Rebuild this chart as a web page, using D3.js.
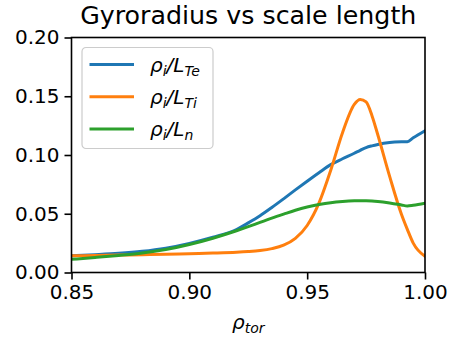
<!DOCTYPE html>
<html>
<head>
<meta charset="utf-8">
<script src="https://cdn.jsdelivr.net/npm/d3@7/dist/d3.min.js"></script>
<style>
  body { margin: 0; background: #fff; }
  svg { font-family: "DejaVu Sans", sans-serif; }
</style>
</head>
<body>
<div id="chart"></div>
<script>
// rho_tor sample points
const rhoTor = [0.85, 0.86, 0.87, 0.88, 0.89, 0.90, 0.91, 0.92, 0.925, 0.93, 0.935, 0.94, 0.945,
  0.95, 0.955, 0.96, 0.965, 0.97, 0.9725, 0.975, 0.9775, 0.98, 0.985, 0.99, 0.9925, 0.995, 1.0];

// rho_i / L_Te
const rhoLTe = [0.0143, 0.0152, 0.0163, 0.0180, 0.0207, 0.0248, 0.0300, 0.0366, 0.0422, 0.0483, 0.0553, 0.0627, 0.0703,
  0.0777, 0.0849, 0.0918, 0.0968, 0.1015, 0.1040, 0.1063, 0.1078, 0.1090, 0.1106, 0.1112, 0.1113, 0.1146, 0.1207];

// rho_i / L_Ti
const rhoLTi = [0.0142, 0.0145, 0.0148, 0.0151, 0.0155, 0.0160, 0.0165, 0.0172, 0.0178, 0.0187, 0.0203, 0.0232, 0.0290,
  0.0400, 0.0590, 0.0870, 0.1190, 0.1430, 0.1472, 0.1452, 0.1335, 0.1170, 0.0818, 0.0496, 0.0367, 0.0250, 0.0137];

// rho_i / L_n
const rhoLn = [0.0112, 0.0128, 0.0145, 0.0165, 0.0195, 0.0238, 0.0292, 0.0355, 0.0390, 0.0427, 0.0463, 0.0497, 0.0530,
  0.0557, 0.0578, 0.0594, 0.0604, 0.0610, 0.0611, 0.0611, 0.0609, 0.0605, 0.0592, 0.0575, 0.0566, 0.0572, 0.0590];

const xTicks = [0.85, 0.90, 0.95, 1.00];
const yTicks = [0.00, 0.05, 0.10, 0.15, 0.20];

const series = [
  { values: rhoLTe, color: "#1f77b4", sub: "Te" },
  { values: rhoLTi, color: "#ff7f0e", sub: "Ti" },
  { values: rhoLn, color: "#2ca02c", sub: "n" }
];

const W = 449, H = 342;
const margin = { top: 37.5, right: 24, bottom: 69.5, left: 71.5 };
const width = W - margin.left - margin.right,
  height = H - margin.top - margin.bottom;

const svg = d3.select("#chart").append("svg")
  .attr("width", W).attr("height", H);

const g = svg.append("g")
  .attr("transform", "translate(" + margin.left + "," + margin.top + ")");

const x = d3.scaleLinear().domain([0.85, 1.0]).range([0, width]);
const y = d3.scaleLinear().domain([0, 0.2]).range([height, 0]);

// lines
const line = d3.line().curve(d3.curveMonotoneX);
g.append("defs").append("clipPath").attr("id", "clip")
  .append("rect").attr("width", width).attr("height", height);

const plot = g.append("g").attr("clip-path", "url(#clip)");
series.forEach(s => {
  plot.append("path")
    .attr("d", line(rhoTor.map((r, i) => [x(r), y(s.values[i])])))
    .attr("fill", "none")
    .attr("stroke", s.color)
    .attr("stroke-width", 3)
    .attr("stroke-linecap", "square");
});

// axes
const xAxis = g.append("g")
  .attr("transform", "translate(0," + height + ")")
  .call(d3.axisBottom(x).tickValues(xTicks).tickFormat(d3.format(".2f")).tickSize(7).tickPadding(5));
const yAxis = g.append("g")
  .call(d3.axisLeft(y).tickValues(yTicks).tickFormat(d3.format(".2f")).tickSize(7).tickPadding(5));

[xAxis, yAxis].forEach(a => {
  a.select(".domain").remove();
  a.selectAll("line").attr("stroke", "#000").attr("stroke-width", 1.6);
  a.selectAll("text").attr("font-size", 20).attr("fill", "#000")
    .attr("font-family", "DejaVu Sans");
});

// frame
g.append("rect")
  .attr("width", width).attr("height", height)
  .attr("fill", "none").attr("stroke", "#000").attr("stroke-width", 1.6);

// title
svg.append("text")
  .attr("x", margin.left + width / 2).attr("y", 24)
  .attr("text-anchor", "middle")
  .attr("font-size", 25.3)
  .text("Gyroradius vs scale length");

// x label
const xl = svg.append("text")
  .attr("x", margin.left + width / 2).attr("y", 329)
  .attr("text-anchor", "middle")
  .attr("font-size", 20)
  .attr("font-style", "italic");
xl.append("tspan").text("ρ");
xl.append("tspan").attr("font-size", 14).attr("dy", 4).text("tor");

// legend
const leg = svg.append("g").attr("transform", "translate(82,47.5)");
leg.append("rect")
  .attr("width", 131).attr("height", 101)
  .attr("rx", 4)
  .attr("fill", "#fff").attr("fill-opacity", 0.8)
  .attr("stroke", "#cccccc").attr("stroke-width", 1.2);

series.forEach((s, i) => {
  const ly = 17 + i * 32.2;
  leg.append("line")
    .attr("x1", 7.5).attr("x2", 52)
    .attr("y1", ly).attr("y2", ly)
    .attr("stroke", s.color).attr("stroke-width", 3);
  const t = leg.append("text")
    .attr("x", 68).attr("y", ly + 7)
    .attr("font-size", 20)
    .attr("font-style", "italic");
  t.append("tspan").text("ρ");
  t.append("tspan").attr("font-size", 14).attr("dy", 4).text("i");
  t.append("tspan").attr("dy", -4).text("/L");
  t.append("tspan").attr("font-size", 14).attr("dy", 4).text(s.sub);
});
</script>
</body>
</html>
